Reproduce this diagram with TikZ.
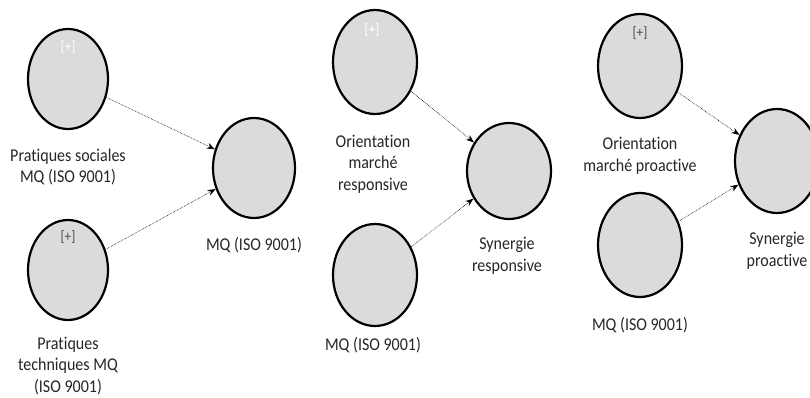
\documentclass[tikz,border=0pt]{standalone}
\usepackage{fontspec}
\setmainfont[Ligatures=NoCommon,FakeStretch=0.89]{Carlito}
\usetikzlibrary{shapes.geometric,arrows.meta}
\begin{document}
\begin{tikzpicture}[x=1pt,y=-1pt,
  construct/.style={ellipse,draw=black,line width=2.2pt,fill=gray!28,
    minimum width=80pt,minimum height=100pt,inner sep=0pt},
  caption/.style={align=center,font=\fontsize{18}{21.5}\selectfont,text=black!85},
  plus/.style={font=\fontsize{15}{16}\selectfont},
  link/.style={densely dotted,line width=0.6pt,
    -{Stealth[length=8pt,width=6pt]}}]
\useasboundingbox (0,0) rectangle (810,398);

% first model
\node[construct] (soc) at (68,79) {};
\node[construct] (tech) at (68,270) {};
\node[construct,minimum width=82pt] (mq) at (254,168) {};
\node[plus,text=white] at (68,47) {[+]};
\node[plus,text=black!70] at (68,237) {[+]};
\node[caption] (socl) at (68,167) {Pratiques sociales\\MQ (ISO 9001)};
\node[caption] (mql) at (254,245) {MQ (ISO 9001)};
\node[caption] (techl) at (68,366) {Pratiques\\techniques MQ\\(ISO 9001)};
\draw[link] (soc) -- (mq);
\draw[link] (tech) -- (mq);

% second model
\node[construct,minimum width=84pt,minimum height=104pt] (omr) at (375,62) {};
\node[construct,minimum width=84pt,minimum height=102pt] (mqr) at (375,275) {};
\node[construct,minimum width=84pt,minimum height=96pt] (synr) at (509,171) {};
\node[plus,text=white] at (372,30) {[+]};
\node[caption] (omrl) at (373,164) {Orientation\\marché\\responsive};
\node[caption] (synrl) at (507,256) {Synergie\\responsive};
\node[caption] (mqrl) at (373,345) {MQ (ISO 9001)};
\draw[link] (omr) -- (synr);
\draw[link] (mqr) -- (synr);

% third model
\node[construct,minimum width=84pt,minimum height=104pt] (omp) at (640,66) {};
\node[construct,minimum width=84pt,minimum height=104pt] (mqp) at (640,245) {};
\node[construct,minimum width=84pt,minimum height=104pt] (synp) at (777,161) {};
\node[plus,text=black!70] at (640,33) {[+]};
\node[caption] (ompl) at (640,156) {Orientation\\marché proactive};
\node[caption] (synpl) at (777,251) {Synergie\\proactive};
\node[caption] (mqpl) at (640,325) {MQ (ISO 9001)};
\draw[link] (omp) -- (synp);
\draw[link] (mqp) -- (synp);
\end{tikzpicture}
\end{document}
